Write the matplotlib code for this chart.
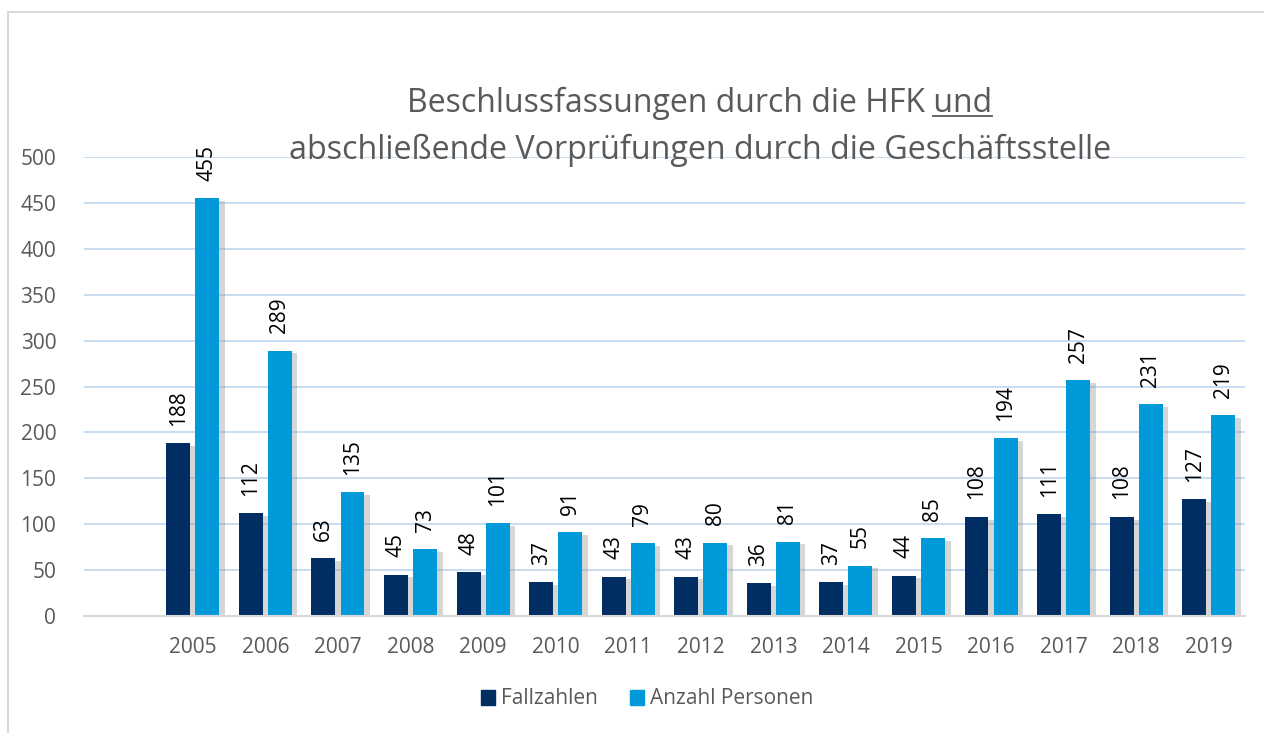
import matplotlib.pyplot as plt
import matplotlib.patheffects as pe
from matplotlib.patches import Rectangle, Patch

years = ['2005', '2006', '2007', '2008', '2009', '2010', '2011', '2012',
         '2013', '2014', '2015', '2016', '2017', '2018', '2019']
fallzahlen = [188, 112, 63, 45, 48, 37, 43, 43, 36, 37, 44, 108, 111, 108, 127]
personen = [455, 289, 135, 73, 101, 91, 79, 80, 81, 55, 85, 194, 257, 231, 219]

dark = '#002D62'
light = '#009ADB'
grey = '#595959'

plt.rcParams['font.family'] = ['Open Sans', 'DejaVu Sans']

fig = plt.figure(figsize=(12.64, 7.33), dpi=100)
ax = fig.add_axes([84 / 1264, 1 - 616 / 733, (1245 - 84) / 1264, (616 - 157) / 733])

# first slot stays empty, like in the original chart
x = [i + 1 for i in range(len(years))]
w = 0.33
shadow = [pe.SimplePatchShadow(offset=(4, -2), shadow_rgbFace='#8c8c8c', alpha=0.35), pe.Normal()]

b1 = ax.bar([i - 0.2 for i in x], fallzahlen, width=w, color=dark, zorder=3)
b2 = ax.bar([i + 0.2 for i in x], personen, width=w, color=light, zorder=3)
for bars in (b1, b2):
    for p in bars:
        p.set_path_effects(shadow)

for bars, vals in ((b1, fallzahlen), (b2, personen)):
    for p, v in zip(bars, vals):
        ax.annotate(str(v), (p.get_x() + p.get_width() / 2, v), xytext=(0, 12.5),
                    textcoords='offset points', rotation=90, ha='center', va='bottom',
                    fontsize=15, color='black')

ax.set_xlim(-0.5, 15.5)
ax.set_ylim(0, 500)
ax.set_yticks(range(0, 501, 50))
ax.set_xticks(x)
ax.set_xticklabels(years)
ax.tick_params(axis='y', length=0, pad=20, labelsize=15, labelcolor=grey)
ax.tick_params(axis='x', length=0, pad=15, labelsize=15, labelcolor=grey)
ax.grid(axis='y', color='#BDD7EE', linewidth=1.2, zorder=0)
for s in ('top', 'right', 'left'):
    ax.spines[s].set_visible(False)
ax.spines['bottom'].set_color('#D9D9D9')
ax.spines['bottom'].set_linewidth(1.5)
ax.spines['bottom'].set_zorder(4)

t1 = fig.text(0.5535, 1 - 103 / 733, 'Beschlussfassungen durch die HFK und',
              ha='center', va='center', fontsize=23, color=grey)
fig.text(0.5535, 1 - 150 / 733, 'abschließende Vorprüfungen durch die Geschäftsstelle',
         ha='center', va='center', fontsize=23.2, color=grey)

# underline the word "und"
fig.canvas.draw()
r = fig.canvas.get_renderer()
bb = t1.get_window_extent(r)
tmp = fig.text(0, 0, 'und', fontsize=23)
uw = tmp.get_window_extent(r).width
tmp.remove()
fh = fig.bbox.height
fw = fig.bbox.width
y_ul = (bb.y0 + 4) / fh
fig.add_artist(plt.Line2D([(bb.x1 - uw) / fw, bb.x1 / fw], [y_ul, y_ul], color=grey, lw=1.3))

handles = [Patch(color=dark, label='Fallzahlen'), Patch(color=light, label='Anzahl Personen')]
fig.legend(handles=handles, loc='center', bbox_to_anchor=(0.512, 1 - 699 / 733), ncol=2,
           frameon=False, fontsize=15, labelcolor=grey, handlelength=0.7, handleheight=0.7,
           handletextpad=0.3, columnspacing=1.5)

fig.add_artist(Rectangle((8 / 1264, -0.1), 1.2, 1.1 - 12 / 733, transform=fig.transFigure,
                         fill=False, edgecolor='#D9D9D9', lw=1.5))

fig.savefig('out.png', dpi=100)
